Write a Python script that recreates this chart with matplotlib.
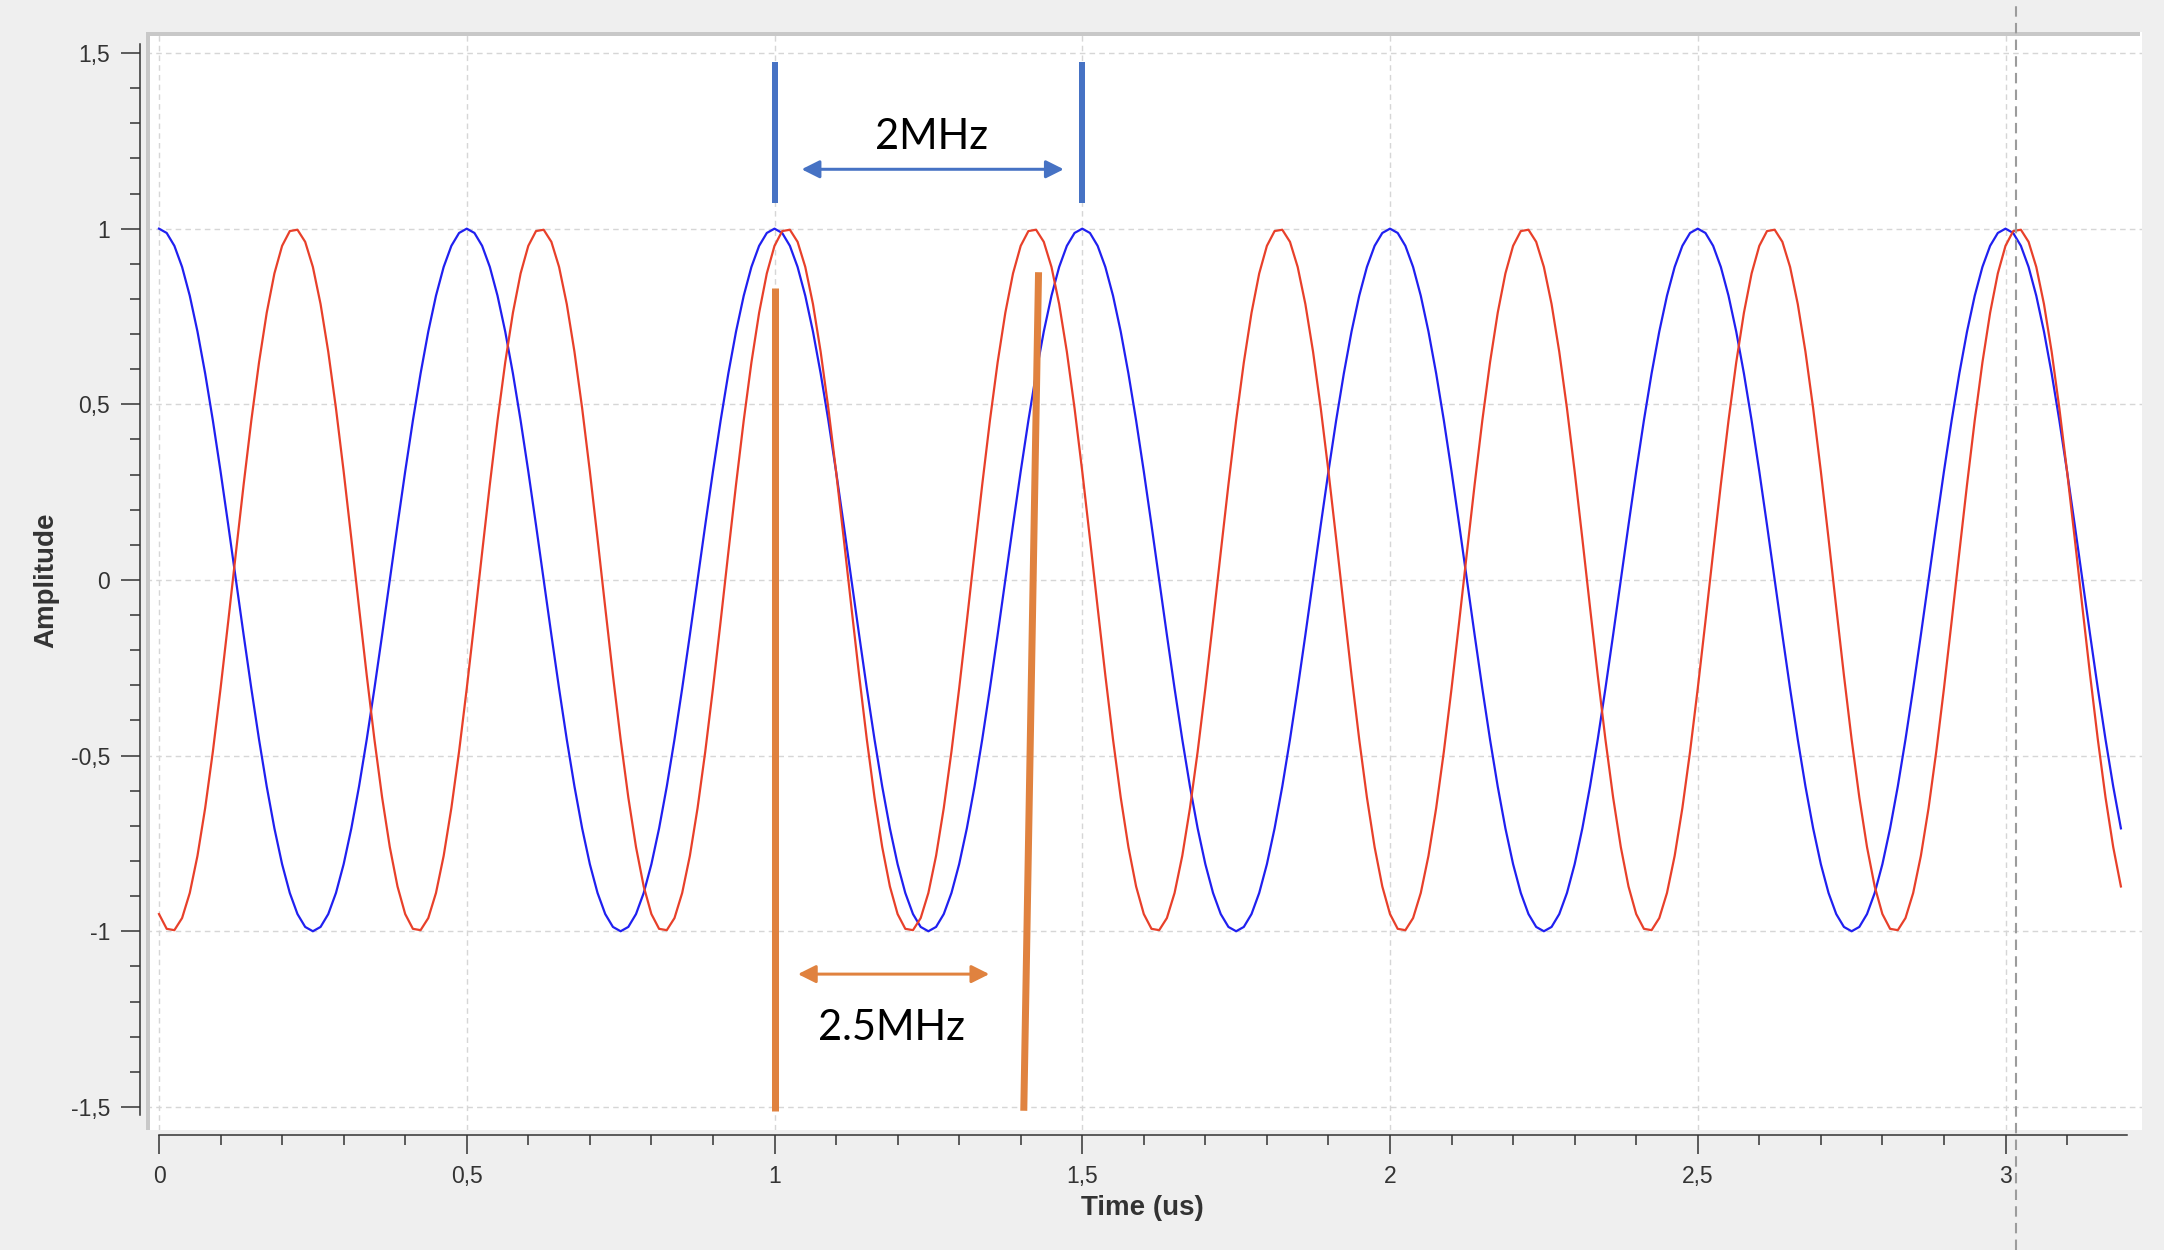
import numpy as np
import matplotlib
matplotlib.use("Agg")
import matplotlib.pyplot as plt
from matplotlib.lines import Line2D
from matplotlib.patches import Rectangle, FancyArrowPatch
from matplotlib.ticker import FuncFormatter, FixedLocator

# signal parameters (us / MHz)
sample_step_us = 0.0125
t_end_us = 3.194
blue_freq_mhz = 2.0
blue_peak_us = 0.0
red_freq_mhz = 2.5
red_peak_us = 0.22

# annotations
blue_marks_us = [1.0, 1.5]
blue_marks_y = [1.073, 1.474]
blue_arrow = [1.044, 1.470, 1.169]
blue_label = "2MHz"
blue_label_pos = [1.255, 1.262]

orange_left = [(1.0, 0.832), (1.0, -1.511)]
orange_right = [(1.429, 0.876), (1.405, -1.511)]
orange_arrow = [1.038, 1.349, -1.122]
orange_label = "2.5MHz"
orange_label_pos = [1.190, -1.276]

cursor_us = 3.0166

x_ticks = [0, 0.5, 1, 1.5, 2, 2.5, 3]
y_ticks = [-1.5, -1, -0.5, 0, 0.5, 1, 1.5]
x_minor = [0.1, 0.2, 0.3, 0.4, 0.6, 0.7, 0.8, 0.9, 1.1, 1.2, 1.3, 1.4, 1.6, 1.7, 1.8, 1.9,
           2.1, 2.2, 2.3, 2.4, 2.6, 2.7, 2.8, 2.9, 3.1]
y_minor = [-1.4, -1.3, -1.2, -1.1, -0.9, -0.8, -0.7, -0.6, -0.4, -0.3, -0.2, -0.1,
           0.1, 0.2, 0.3, 0.4, 0.6, 0.7, 0.8, 0.9, 1.1, 1.2, 1.3, 1.4]

W, H, DPI = 2164, 1250, 100
PT = 72 / DPI  # points per pixel

BG = "#efefef"
BLUE_TRACE = "#2020f0"
RED_TRACE = "#e8402a"
BLUE_NOTE = "#4672c4"
ORANGE_NOTE = "#e0823f"
AX_COL = "#333333"

plt.rcParams["font.family"] = ["Liberation Sans", "DejaVu Sans"]

t = np.arange(0, t_end_us + 1e-9, sample_step_us)
blue = np.cos(2 * np.pi * blue_freq_mhz * (t - blue_peak_us))
red = np.cos(2 * np.pi * red_freq_mhz * (t - red_peak_us))

fig = plt.figure(figsize=(W / DPI, H / DPI), dpi=DPI, facecolor=BG)

# panel in pixels
p_left, p_right, p_top, p_bottom = 146, 2142, 32, 1130
ax = fig.add_axes([p_left / W, 1 - p_bottom / H,
                   (p_right - p_left) / W, (p_bottom - p_top) / H])
ax.set_facecolor("white")

x0_px, x_scale = 159, 615.5
y15_px, y_scale = 53, 351.3
ax.set_xlim((p_left - x0_px) / x_scale, (p_right - x0_px) / x_scale)
ax.set_ylim(1.5 - (p_bottom - y15_px) / y_scale, 1.5 + (y15_px - p_top) / y_scale)

ax.plot(t, blue, color=BLUE_TRACE, lw=1.6, zorder=3)
ax.plot(t, red, color=RED_TRACE, lw=1.6, zorder=3)

# grid
for xv in x_ticks:
    ax.axvline(xv, color="#d6d6d6", lw=1.0, ls=(0, (4, 3)), zorder=1)
for yv in y_ticks:
    ax.axhline(yv, color="#d6d6d6", lw=1.0, ls=(0, (4, 3)), zorder=1)

# spines / ticks
for s in ["top", "right"]:
    ax.spines[s].set_visible(False)
ax.spines["left"].set_position(("outward", 6 * PT))
ax.spines["bottom"].set_position(("outward", 5 * PT))
ax.spines["left"].set_bounds(-1.523, 1.526)
ax.spines["bottom"].set_bounds(0, 3.197)
for s in ["left", "bottom"]:
    ax.spines[s].set_color(AX_COL)
    ax.spines[s].set_linewidth(1.1)

ax.set_xticks(x_ticks)
ax.set_yticks(y_ticks)
ax.xaxis.set_minor_locator(FixedLocator(x_minor))
ax.yaxis.set_minor_locator(FixedLocator(y_minor))
fmt = FuncFormatter(lambda v, _: f"{v:g}".replace(".", ","))
ax.xaxis.set_major_formatter(fmt)
ax.yaxis.set_major_formatter(fmt)
ax.tick_params(which="major", length=19 * PT, width=1.1, color=AX_COL,
               labelsize=16.5, labelcolor=AX_COL, pad=11 * PT)
ax.tick_params(which="minor", length=10 * PT, width=1.1, color=AX_COL)

fig.text(46.7 / W, 1 - 580 / H, "Amplitude", rotation=90, ha="center", va="center",
         fontsize=20, fontweight="bold", color=AX_COL)
fig.text(1142 / W, 1 - 1208 / H, "Time (us)", ha="center", va="center",
         fontsize=20, fontweight="bold", color=AX_COL)

# panel bevel on left and top
fig.add_artist(Rectangle((p_left / W, 1 - p_bottom / H), 4 / W, (p_bottom - p_top) / H,
                         transform=fig.transFigure, color="#c8c8c8", lw=0, zorder=5))
fig.add_artist(Rectangle((p_left / W, 1 - (p_top + 4) / H), (p_right - 2 - p_left) / W, 4 / H,
                         transform=fig.transFigure, color="#c8c8c8", lw=0, zorder=5))

# cursor line across the whole figure
cursor_px = x0_px + cursor_us * x_scale
fig.add_artist(Line2D([cursor_px / W, cursor_px / W], [0, 1], transform=fig.transFigure,
                      color="#9c9c9c", lw=1.5, ls=(0, (5, 3)), zorder=6))

# blue 2MHz annotation
for xm in blue_marks_us:
    ax.plot([xm, xm], blue_marks_y, color=BLUE_NOTE, lw=6 * PT,
            solid_capstyle="butt", zorder=4)
ax.add_patch(FancyArrowPatch((blue_arrow[0], blue_arrow[2]), (blue_arrow[1], blue_arrow[2]),
                             arrowstyle="<|-|>,head_length=10.8,head_width=5.4",
                             mutation_scale=1, shrinkA=0, shrinkB=0,
                             color=BLUE_NOTE, lw=3 * PT, zorder=4))
ax.text(blue_label_pos[0], blue_label_pos[1], blue_label, ha="center", va="center",
        fontsize=30, family="Lato", color="black", zorder=4)

# orange 2.5MHz annotation
for seg in [orange_left, orange_right]:
    ax.plot([seg[0][0], seg[1][0]], [seg[0][1], seg[1][1]], color=ORANGE_NOTE,
            lw=7 * PT, solid_capstyle="butt", zorder=4)
ax.add_patch(FancyArrowPatch((orange_arrow[0], orange_arrow[2]), (orange_arrow[1], orange_arrow[2]),
                             arrowstyle="<|-|>,head_length=10.8,head_width=5.4",
                             mutation_scale=1, shrinkA=0, shrinkB=0,
                             color=ORANGE_NOTE, lw=3 * PT, zorder=4))
ax.text(orange_label_pos[0], orange_label_pos[1], orange_label, ha="center", va="center",
        fontsize=30, family="Lato", color="black", zorder=4)

fig.savefig("out.png", dpi=DPI, facecolor=BG)
